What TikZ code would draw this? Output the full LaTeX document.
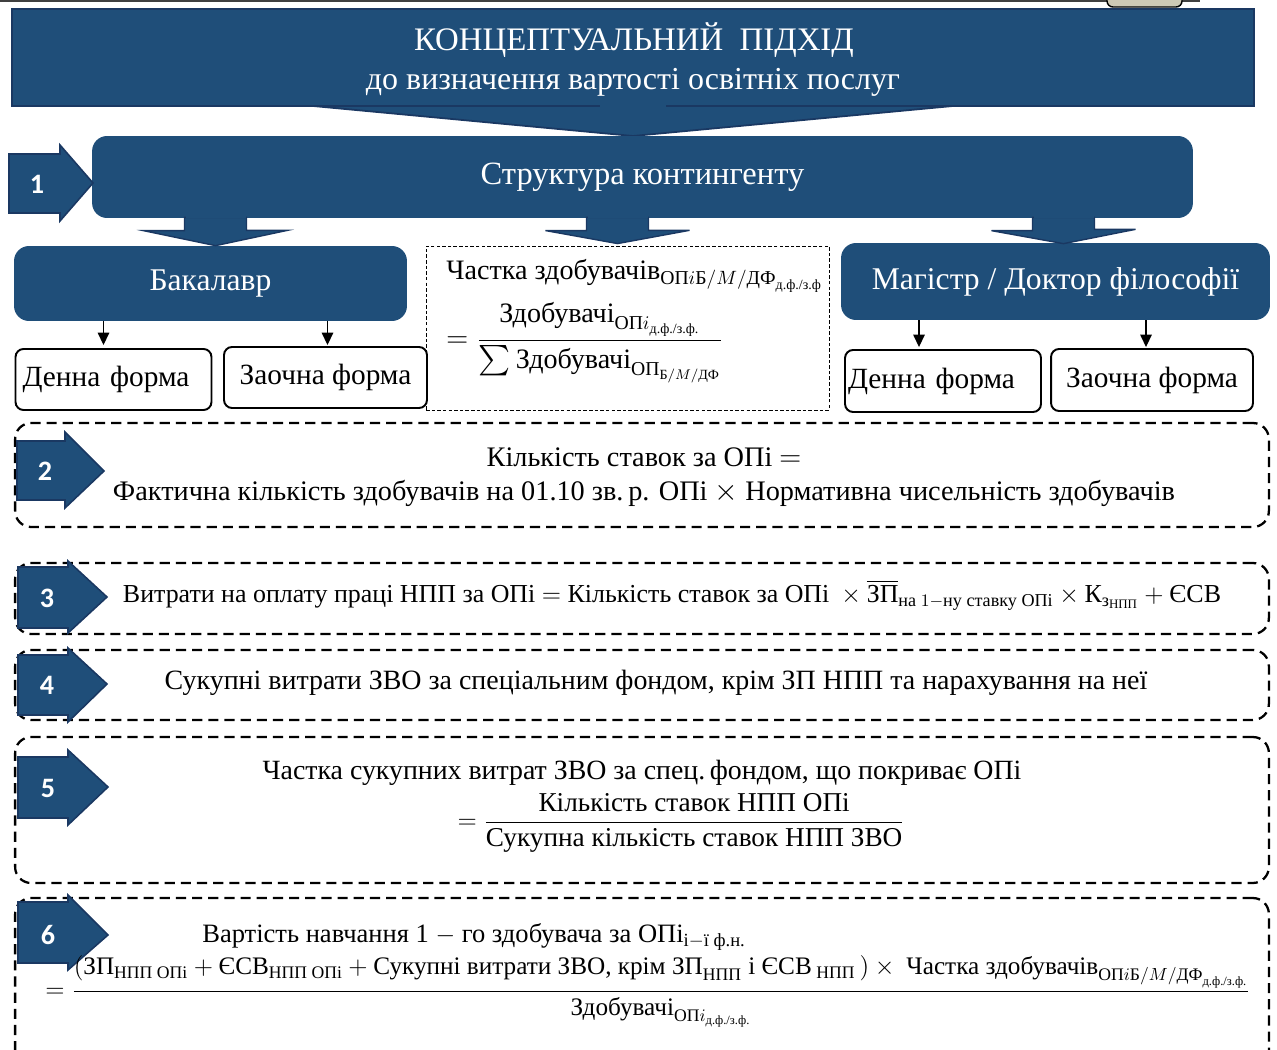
\documentclass[tikz,border=0pt]{standalone}
\usepackage{amsmath}
\usepackage{fontspec}
\setmainfont{Liberation Serif}
\newfontfamily\numfont{Carlito}
\usetikzlibrary{arrows.meta,calc}
\definecolor{navy}{HTML}{1F4E79}
\definecolor{navyline}{HTML}{1A3862}
\definecolor{beige}{HTML}{CEC9B5}
\tikzset{
  bluebox/.style={fill=navy, rounded corners=0.3cm, inner sep=0pt, text=white},
  formbox/.style={draw=black, line width=1.1pt, rounded corners=0.16cm, fill=white, inner sep=0pt, font=\fontsize{16.7}{20}\selectfont},
  dashbox/.style={draw=black, line width=1.3pt, dash pattern=on 5.8pt off 3.4pt, rounded corners=0.32cm, inner sep=0pt},
  thinbox/.style={draw=black, line width=0.5pt, dash pattern=on 2pt off 1.2pt, inner sep=0pt},
  numarrow/.style={fill=navy, draw=navyline, line width=0.9pt},
  numtext/.style={text=white, font=\numfont\bfseries\fontsize{16}{18}\selectfont},
  blockarrow/.style={fill=navy, draw=navyline, line width=0.8pt},
  smallarrow/.style={-{Triangle[length=7pt,width=6.5pt]}, line width=0.7pt},
  txt/.style={inner sep=0pt}
}
\begin{document}
\begin{tikzpicture}[x=0.02cm, y=-0.02cm]
	\useasboundingbox (0,0) rectangle (1277,1050);
	\clip (0,0) rectangle (1277,1050);
	\draw[line width=1.2pt, black!75] (0,0.5) -- (1200,0.5);
	\draw[fill=beige, line width=0.8pt, rounded corners=0.12cm] (1107,-10) -- (1107,7) -- (1182,7) -- (1182,-10);
	\filldraw[fill=navy, draw=navyline, line width=1pt] (12,9) -- (1254,9) -- (1254,106) -- (953,106) -- (633,136) -- (313,106) -- (12,106) -- cycle;
	\draw[navyline, line width=1.2pt] (313,106) -- (600,106) (666,106) -- (953,106);
	\node[txt, text=white, font=\fontsize{18.7}{22}\selectfont] (title) at (634,40) {КОНЦЕПТУАЛЬНИЙ\ \ ПІДХІД};
	\node[txt, text=white, font=\fontsize{18.2}{22}\selectfont] (subtitle) at (633,82) {до визначення вартості освітніх послуг};

	\node[bluebox, minimum width=22.02cm, minimum height=1.64cm, font=\fontsize{18.5}{22}\selectfont] (struct) at (642.5,177) {Структура контингенту};
	\node[bluebox, minimum width=7.86cm, minimum height=1.5cm, font=\fontsize{18}{21}\selectfont] (bach) at (210.5,283.5) {Бакалавр};
	\node[bluebox, minimum width=8.58cm, minimum height=1.54cm, font=\fontsize{18}{21}\selectfont] (mast) at (1055.5,281.5) {Магістр / Доктор філософії};
	\node[thinbox, minimum width=8.06cm, minimum height=3.28cm] (fbox) at (627.5,328) {};

	\coordinate (t1) at ($(bach.north)+(5,0)$);
	\coordinate (t2) at ($(fbox.north)+(-10,-2)$);
	\coordinate (t3) at ($(mast.north)+(8,1)$);
	\filldraw[blockarrow] ($(struct.south -| t1)+(-31,-1)$) -- ++(62,0) -- ++(0,13) -- ++(41,0) -- (t1) -- ++(-72,-15) -- ++(41,0) -- cycle;
	\filldraw[blockarrow] ($(struct.south -| t2)+(-31,-1)$) -- ++(62,0) -- ++(0,13) -- ++(41,0) -- (t2) -- ++(-72,-13) -- ++(41,0) -- cycle;
	\filldraw[blockarrow] ($(struct.south -| t3)+(-31,-1)$) -- ++(62,0) -- ++(0,12) -- ++(41,0) -- (t3) -- ++(-72,-13) -- ++(41,0) -- cycle;
	\fill[navy] ($(struct.south -| t1)+(-30,-3)$) rectangle ++(60,3);
	\fill[navy] ($(struct.south -| t2)+(-30,-3)$) rectangle ++(60,3);
	\fill[navy] ($(struct.south -| t3)+(-30,-3)$) rectangle ++(60,3);

	\node[formbox, text width=3.64cm, minimum height=1.22cm, inner xsep=0.14cm, align=left] (bachday) at (113.5,379.5) {Денна форма};
	\node[formbox, minimum width=4.06cm, minimum height=1.22cm] (bachpart) at (325.5,377.5) {Заочна форма};
	\node[formbox, text width=3.8cm, minimum height=1.24cm, inner xsep=0.06cm, align=left] (mastday) at (943,381) {Денна форма};
	\node[formbox, minimum width=4.04cm, minimum height=1.24cm] (mastpart) at (1152,380) {Заочна форма};
	\coordinate (a1) at ($(bachday.north)+(-10,-3)$);
	\coordinate (a2) at ($(bachpart.north)+(2,-1)$);
	\coordinate (a3) at ($(mastday.north)+(-24,-2)$);
	\coordinate (a4) at ($(mastpart.north)+(-6,-1)$);
	\draw[smallarrow] (bach.south -| a1) -- (a1);
	\draw[smallarrow] (bach.south -| a2) -- (a2);
	\draw[smallarrow] (mast.south -| a3) -- (a3);
	\draw[smallarrow] (mast.south -| a4) -- (a4);

	\node[txt, anchor=west, font=\fontsize{16}{19}\selectfont] (share) at (446,276) {Частка здобувачів$_{\text{ОП}i\text{Б}/M/\text{ДФ}_{\text{д.ф./з.ф}}}$};
	\node[txt, anchor=west, font=\fontsize{16}{19}\selectfont] (sharefrac) at (446,343) {$=\dfrac{\text{Здобувачі}_{\text{ОП}i_{\text{д.ф./з.ф.}}}}{\sum\text{Здобувачі}_{\text{ОП}_{\text{Б}/M/\text{ДФ}}}}$};

	\node[dashbox, minimum width=25.08cm, minimum height=2.08cm] (box2) at (642,475) {};
	\node[dashbox, minimum width=25.08cm, minimum height=1.42cm] (box3) at (642,598.5) {};
	\node[dashbox, minimum width=25.08cm, minimum height=1.4cm] (box4) at (642,685) {};
	\node[dashbox, minimum width=25.08cm, minimum height=2.92cm] (box5) at (642,810) {};
	\node[dashbox, minimum width=25.08cm, minimum height=3.4cm] (box6) at (642,983) {};

	\filldraw[numarrow] (9,154) -- (60,154) -- (60,145) -- (93,183) -- (60,221) -- (60,213) -- (9,213) -- cycle;
	\filldraw[numarrow] (17,441) -- (65,441) -- (65,432) -- (104,471) -- (65,508) -- (65,500) -- (17,500) -- cycle;
	\filldraw[numarrow] (18,567) -- (68,567) -- (68,561) -- (107,597) -- (68,633) -- (68,628) -- (18,628) -- cycle;
	\filldraw[numarrow] (18,655) -- (68,655) -- (68,648) -- (107,684) -- (68,722) -- (68,715) -- (18,715) -- cycle;
	\filldraw[numarrow] (18,757) -- (68,757) -- (68,750) -- (108,787) -- (68,825) -- (68,818) -- (18,818) -- cycle;
	\filldraw[numarrow] (18,902) -- (68,902) -- (68,895) -- (108,935) -- (68,970) -- (68,963) -- (18,963) -- cycle;
	\node[numtext] (n1) at (37,184) {1};
	\node[numtext] (n2) at (45,471) {2};
	\node[numtext] (n3) at (47,598) {3};
	\node[numtext] (n4) at (47,685) {4};
	\node[numtext] (n5) at (48,788) {5};
	\node[numtext] (n6) at (48,935) {6};

	\node[txt, align=center, font=\fontsize{16.1}{19.4}\selectfont] (rates) at (644,477) {Кількість ставок за ОПі $=$\\Фактична кількість здобувачів на 01.10 зв.\,р. ОПі $\times$ Нормативна чисельність здобувачів};
	\node[txt, font=\fontsize{14.75}{18}\selectfont] (wages) at (672,595) {Витрати на оплату праці НПП за ОПі $=$ Кількість ставок за ОПі\ ${}\times\overline{\text{ЗП}}_{\text{на }1-\text{ну ставку ОПі}}\times\text{К}_{\text{з}_{\text{НПП}}}+\text{ЄСВ}$};
	\node[txt, font=\fontsize{15.9}{19}\selectfont] (costs) at (656,683) {Сукупні витрати ЗВО за спеціальним фондом, крім ЗП НПП та нарахування на неї};
	\node[txt, font=\fontsize{15.85}{19}\selectfont] (part) at (642,773) {Частка сукупних витрат ЗВО за спец.\,фондом, що покриває ОПі};
	\node[txt, font=\fontsize{15.5}{18}\selectfont] (partfrac) at (681,823) {$=\dfrac{\text{Кількість ставок НПП ОПі}}{\text{Сукупна кількість ставок НПП ЗВО}}$};
	\node[txt, anchor=west, font=\fontsize{15.1}{18}\selectfont] (cost) at (202,937) {Вартість навчання 1 $-$ го здобувача за ОПі$_{\text{і}-\text{ї ф.н.}}$};
	\node[txt, anchor=west, font=\fontsize{14.35}{17}\selectfont] (costfrac) at (45,991) {$=\dfrac{(\text{ЗП}_{\text{НПП ОПі}}+\text{ЄСВ}_{\text{НПП ОПі}}+\text{Сукупні витрати ЗВО, крім ЗП}_{\text{НПП}}\text{ і ЄСВ}_{\text{ НПП}}\,)\times\text{ Частка здобувачів}_{\text{ОП}i\text{Б}/M/\text{ДФ}_{\text{д.ф./з.ф.}}}}{\text{Здобувачі}_{\text{ОП}i_{\text{д.ф./з.ф.}}}}$};
\end{tikzpicture}
\end{document}
